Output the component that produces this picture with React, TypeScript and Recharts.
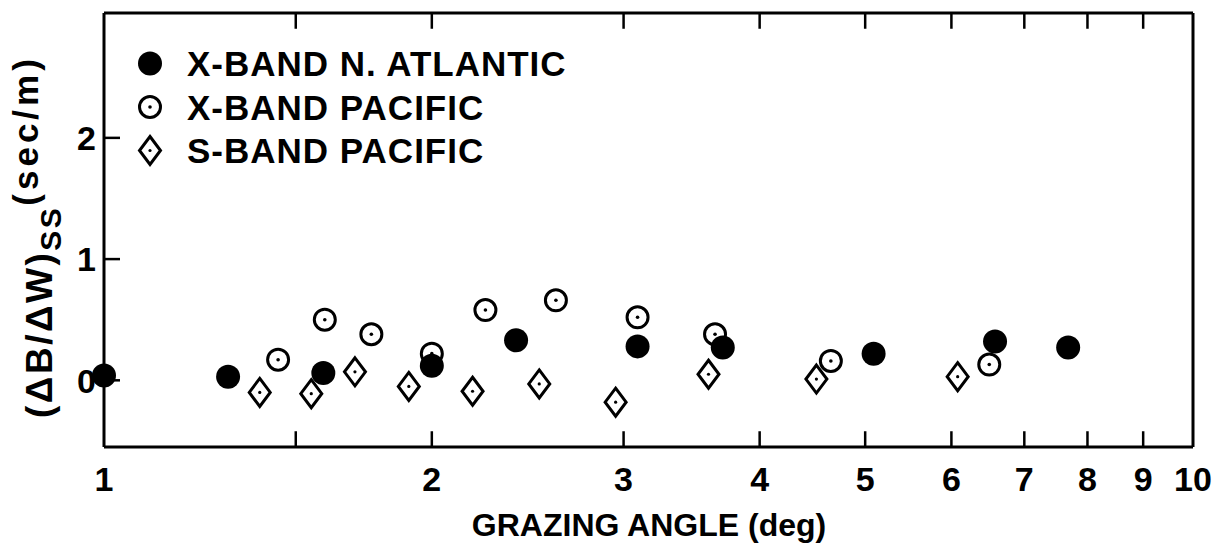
import React from "react";
import { Legend, ReferenceLine, Scatter, ScatterChart, XAxis, YAxis } from "recharts";

const FONT = "'Liberation Sans', Arial, Helvetica, sans-serif";

// log axis ticks: every integer plus an unlabelled one at 1.5
const xTicks = [1, 1.5, 2, 3, 4, 5, 6, 7, 8, 9, 10];
const xTickLabels = ["1", "", "2", "3", "4", "5", "6", "7", "8", "9", "10"];
const yTicks = [0, 1, 2];
const yDomain = [-0.55, 3.03];
const tickLen = 0.13; // inward tick length, in y units

const seriesNames = ["X-BAND N. ATLANTIC", "X-BAND PACIFIC", "S-BAND PACIFIC"];

// X-band, North Atlantic (filled dots)
const atlanticAngle = [1.0, 1.3, 1.59, 2.0, 2.39, 3.09, 3.7, 5.09, 6.58, 7.68];
const atlanticValue = [0.04, 0.03, 0.06, 0.12, 0.33, 0.28, 0.27, 0.22, 0.32, 0.27];

// X-band, Pacific (open circles)
const xPacificAngle = [1.445, 1.595, 1.76, 2.0, 2.24, 2.6, 3.09, 3.64, 4.65, 6.5];
const xPacificValue = [0.17, 0.5, 0.38, 0.22, 0.58, 0.66, 0.52, 0.38, 0.16, 0.13];

// S-band, Pacific (diamonds)
const sPacificAngle = [1.39, 1.55, 1.7, 1.905, 2.18, 2.51, 2.95, 3.59, 4.51, 6.08];
const sPacificValue = [-0.1, -0.11, 0.07, -0.05, -0.09, -0.03, -0.18, 0.05, 0.01, 0.03];

const toPoints = (xs: number[], ys: number[]) => xs.map((x, i) => ({ x, y: ys[i] }));

const atlantic = toPoints(atlanticAngle, atlanticValue);
const xPacific = toPoints(xPacificAngle, xPacificValue);
const sPacific = toPoints(sPacificAngle, sPacificValue);

const innerTicks = xTicks.filter((t) => t !== 1 && t !== 10);

function FilledDot({ cx, cy }: any) {
  return <circle cx={cx} cy={cy} r={12} fill="#000" />;
}

function OpenDot({ cx, cy }: any) {
  return (
    <g>
      <circle cx={cx} cy={cy} r={10.5} fill="#fff" stroke="#000" strokeWidth={3} />
      <circle cx={cx} cy={cy} r={1.8} fill="#000" />
    </g>
  );
}

function Diamond({ cx, cy }: any) {
  const w = 10.5;
  const h = 14;
  return (
    <g>
      <path
        d={`M${cx},${cy - h}L${cx + w},${cy}L${cx},${cy + h}L${cx - w},${cy}Z`}
        fill="#fff"
        stroke="#000"
        strokeWidth={3}
      />
      <circle cx={cx} cy={cy} r={1.6} fill="#000" />
    </g>
  );
}

function BottomTick({ x, y, payload }: any) {
  const label = xTickLabels[xTicks.indexOf(payload.value)];
  return (
    <text x={x} y={y + 44} textAnchor="middle" fontFamily={FONT} fontWeight="bold" fontSize={34} fill="#000">
      {label}
    </text>
  );
}

function LeftTick({ x, y, payload }: any) {
  return (
    <g>
      <line x1={x} x2={x + 16} y1={y} y2={y} stroke="#000" strokeWidth={2.5} />
      <text x={x - 8} y={y} dy="0.36em" textAnchor="end" fontFamily={FONT} fontWeight="bold" fontSize={34} fill="#000">
        {payload.value}
      </text>
    </g>
  );
}

function YTitle() {
  return (
    <text
      transform="translate(52, 418) rotate(-90)"
      fontFamily={FONT}
      fontWeight="bold"
      fill="#000"
      fontSize={37}
      letterSpacing={2.5}
    >
      <tspan>(ΔB/ΔW)</tspan>
      <tspan dy={9} fontSize={30}>SS</tspan>
      <tspan dy={-23} fontSize={35} letterSpacing={4}>(sec/m)</tspan>
    </text>
  );
}

function XTitle() {
  return (
    <text x={649} y={536} textAnchor="middle" fontFamily={FONT} fontWeight="bold" fontSize={32} fill="#000">
      GRAZING ANGLE (deg)
    </text>
  );
}

function LegendBox() {
  const markers = [FilledDot, OpenDot, Diamond];
  return (
    <svg width={520} height={135}>
      {seriesNames.map((name, i) => {
        const M = markers[i];
        const cy = 23.5 + i * 43.5;
        return (
          <g key={name}>
            <M cx={20} cy={cy} />
            <text
              x={57}
              y={cy}
              dy="0.36em"
              fontFamily={FONT}
              fontWeight="bold"
              fontSize={35}
              letterSpacing={1}
              fill="#000"
            >
              {name}
            </text>
          </g>
        );
      })}
    </svg>
  );
}

export default function App() {
  const axisLine = { stroke: "#000", strokeWidth: 3 };
  return (
    <div style={{ position: "absolute", left: 0, top: 0, width: 1218, height: 545, background: "#fff" }}>
      <ScatterChart width={1218} height={545} margin={{ top: 12, right: 24, bottom: 38, left: 44 }}>
        <XAxis
          dataKey="x"
          type="number"
          scale="log"
          domain={[1, 10]}
          ticks={xTicks}
          interval={0}
          tick={BottomTick}
          tickSize={0}
          tickMargin={0}
          tickLine={false}
          height={60}
          axisLine={axisLine}
          label={{ content: () => <XTitle /> }}
        />
        <XAxis
          xAxisId="top"
          orientation="top"
          type="number"
          scale="log"
          domain={[1, 10]}
          tick={false}
          tickLine={false}
          height={1}
          axisLine={axisLine}
        />
        <YAxis
          dataKey="y"
          type="number"
          domain={yDomain}
          ticks={yTicks}
          interval={0}
          tick={LeftTick}
          tickSize={0}
          tickMargin={0}
          tickLine={false}
          width={60}
          axisLine={axisLine}
          label={{ content: () => <YTitle /> }}
        />
        <YAxis
          yAxisId="right"
          orientation="right"
          type="number"
          domain={yDomain}
          tick={false}
          tickLine={false}
          width={1}
          axisLine={axisLine}
        />
        {innerTicks.map((t) => (
          <ReferenceLine
            key={`b${t}`}
            segment={[
              { x: t, y: yDomain[0] },
              { x: t, y: yDomain[0] + tickLen },
            ]}
            stroke="#000"
            strokeWidth={2.5}
          />
        ))}
        {innerTicks.map((t) => (
          <ReferenceLine
            key={`t${t}`}
            segment={[
              { x: t, y: yDomain[1] },
              { x: t, y: yDomain[1] - tickLen },
            ]}
            stroke="#000"
            strokeWidth={2.5}
          />
        ))}
        <Legend
          layout="vertical"
          align="center"
          verticalAlign="middle"
          wrapperStyle={{ left: 130, top: 40, width: 520, height: 135 }}
          content={() => <LegendBox />}
        />
        <Scatter name={seriesNames[1]} data={xPacific} shape={(p: any) => <OpenDot {...p} />} isAnimationActive={false} />
        <Scatter name={seriesNames[0]} data={atlantic} shape={(p: any) => <FilledDot {...p} />} isAnimationActive={false} />
        <Scatter name={seriesNames[2]} data={sPacific} shape={(p: any) => <Diamond {...p} />} isAnimationActive={false} />
      </ScatterChart>
    </div>
  );
}
